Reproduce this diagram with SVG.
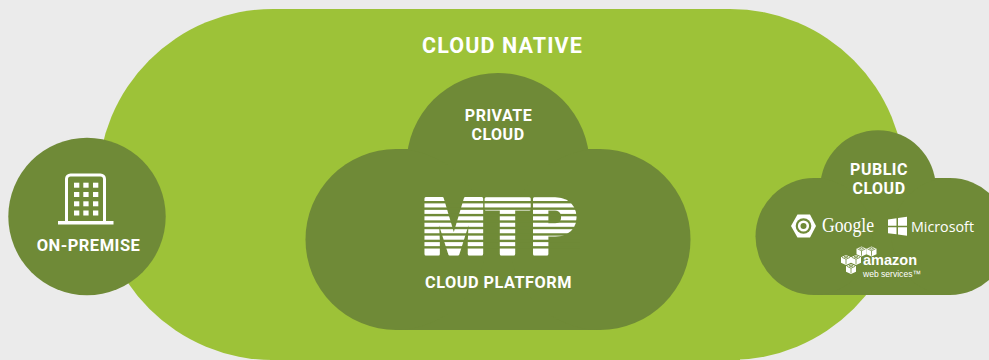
<svg xmlns="http://www.w3.org/2000/svg" width="989" height="360" viewBox="0 0 989 360">
<style>
.d{fill:#6f8a37}
.t{font-family:"Roboto","Liberation Sans",sans-serif;font-weight:700;fill:#fff;text-anchor:middle;letter-spacing:.5px}
.w{fill:#fff}
.s{fill:#6f8a37}
</style>
<defs>
<g id="cube">
<path d="M0 2.200L5 0L10 2.200V7.800L5 10L0 7.800Z" fill="#fff"/>
<path d="M1 2.400L5 4.200L9 2.400M5 4.200V9.200M3 1.800L5 1L7 1.800L5 2.700Z" fill="none" stroke="#6f8a37" stroke-width=".8"/>
</g>
</defs>
<rect width="989" height="360" fill="#ebebeb"/>
<g id="cloud-native">
<rect x="98" y="9" width="807" height="351" rx="175" ry="175" fill="#9dc238"/>
<rect x="270" y="180" width="470" height="180" fill="#9dc238"/>
<text class="t" x="502.500" y="53" font-size="21.500" style="letter-spacing:1.1px">CLOUD NATIVE</text>
</g>
<g id="on-premise">
<circle class="d" cx="87" cy="216.500" r="78.700"/>
<path d="M66.500 222V179a4 4 0 0 1 4-4H100.500a4 4 0 0 1 4 4V222" fill="none" stroke="#fff" stroke-width="3"/>
<rect class="w" x="58" y="221" width="55.500" height="3.500"/>
<g class="w">
<rect x="74" y="182.700" width="5.300" height="5"/><rect x="83.300" y="182.700" width="5.300" height="5"/><rect x="93" y="182.700" width="5.300" height="5"/>
<rect x="74" y="192" width="5.300" height="5"/><rect x="83.300" y="192" width="5.300" height="5"/><rect x="93" y="192" width="5.300" height="5"/>
<rect x="74" y="201.300" width="5.300" height="5"/><rect x="83.300" y="201.300" width="5.300" height="5"/><rect x="93" y="201.300" width="5.300" height="5"/>
<rect x="74" y="210.500" width="5.300" height="5"/><rect x="83.300" y="210.500" width="5.300" height="5"/><rect x="93" y="210.500" width="5.300" height="5"/>
</g>
<text class="t" x="88.500" y="251" font-size="16.500">ON-PREMISE</text>
</g>
<g id="private-cloud">
<circle class="d" cx="498" cy="164.500" r="91.500"/>
<rect class="d" x="396" y="149" width="204" height="181"/>
<circle class="d" cx="396" cy="239.500" r="90.500"/>
<circle class="d" cx="600" cy="239.500" r="90.500"/>
<text class="t" x="498.500" y="121" font-size="16">PRIVATE</text>
<text class="t" x="498" y="140" font-size="16">CLOUD</text>
<text x="422" y="253.500" font-size="77" font-weight="900" fill="#fff" stroke="#fff" stroke-width="3" stroke-linejoin="round" textLength="156" lengthAdjust="spacingAndGlyphs" font-family="Roboto,'Liberation Sans',sans-serif">MTP</text>
<g class="s">
<rect x="420" y="201" width="160" height="2.400"/><rect x="420" y="207.450" width="160" height="2.400"/><rect x="420" y="213.900" width="160" height="2.400"/><rect x="420" y="220.350" width="160" height="2.400"/><rect x="420" y="226.800" width="160" height="2.400"/><rect x="420" y="233.250" width="160" height="2.400"/><rect x="420" y="239.700" width="160" height="2.400"/><rect x="420" y="246.150" width="160" height="2.400"/>
</g>
<text class="t" x="498.500" y="288" font-size="16.300">CLOUD PLATFORM</text>
</g>
<g id="public-cloud">
<circle class="d" cx="878" cy="188" r="57.800"/>
<rect class="d" x="814" y="178" width="136" height="117"/>
<circle class="d" cx="814" cy="236.500" r="58.500"/>
<circle class="d" cx="950" cy="236.500" r="58.500"/>
<text class="t" x="879" y="175" font-size="16">PUBLIC</text>
<text class="t" x="879" y="194" font-size="16">CLOUD</text>
<g id="google">
<polygon class="w" points="791,226 797.500,214.500 810,214.500 816,226 810,237.500 797.500,237.500"/>
<circle class="s" cx="803.500" cy="226" r="7.800"/>
<circle class="w" cx="803.500" cy="226" r="5.600"/>
<circle class="s" cx="803.500" cy="226" r="3"/>
<text x="822" y="232" font-size="20" fill="#fff" font-family="'Liberation Serif',serif" textLength="52" lengthAdjust="spacingAndGlyphs">Google</text>
</g>
<g id="microsoft" class="w">
<polygon points="888,219.500 896.500,218.300 896.500,225.800 888,225.800"/>
<polygon points="898,218 907,216.800 907,225.800 898,225.800"/>
<polygon points="888,227.200 896.500,227.200 896.500,234.200 888,233.200"/>
<polygon points="898,227.200 907,227.200 907,235.800 898,234.500"/>
<text x="911" y="232" font-size="15" font-weight="500" fill="#fff" font-family="'Open Sans',sans-serif" textLength="63" lengthAdjust="spacingAndGlyphs">Microsoft</text>
</g>
<g id="amazon">
<use href="#cube" x="856.500" y="246.500"/>
<use href="#cube" x="866.500" y="246.500"/>
<use href="#cube" x="841" y="255"/>
<use href="#cube" x="851" y="255"/>
<use href="#cube" x="846" y="264"/>
<text x="863" y="265.300" font-size="15" font-weight="700" fill="#fff" font-family="'Liberation Sans',sans-serif" textLength="54" lengthAdjust="spacingAndGlyphs">amazon</text>
<text x="863" y="276.500" font-size="9" fill="#fff" font-family="'Liberation Sans',sans-serif" textLength="58" lengthAdjust="spacingAndGlyphs">web services™</text>
</g>
</g>
</svg>
